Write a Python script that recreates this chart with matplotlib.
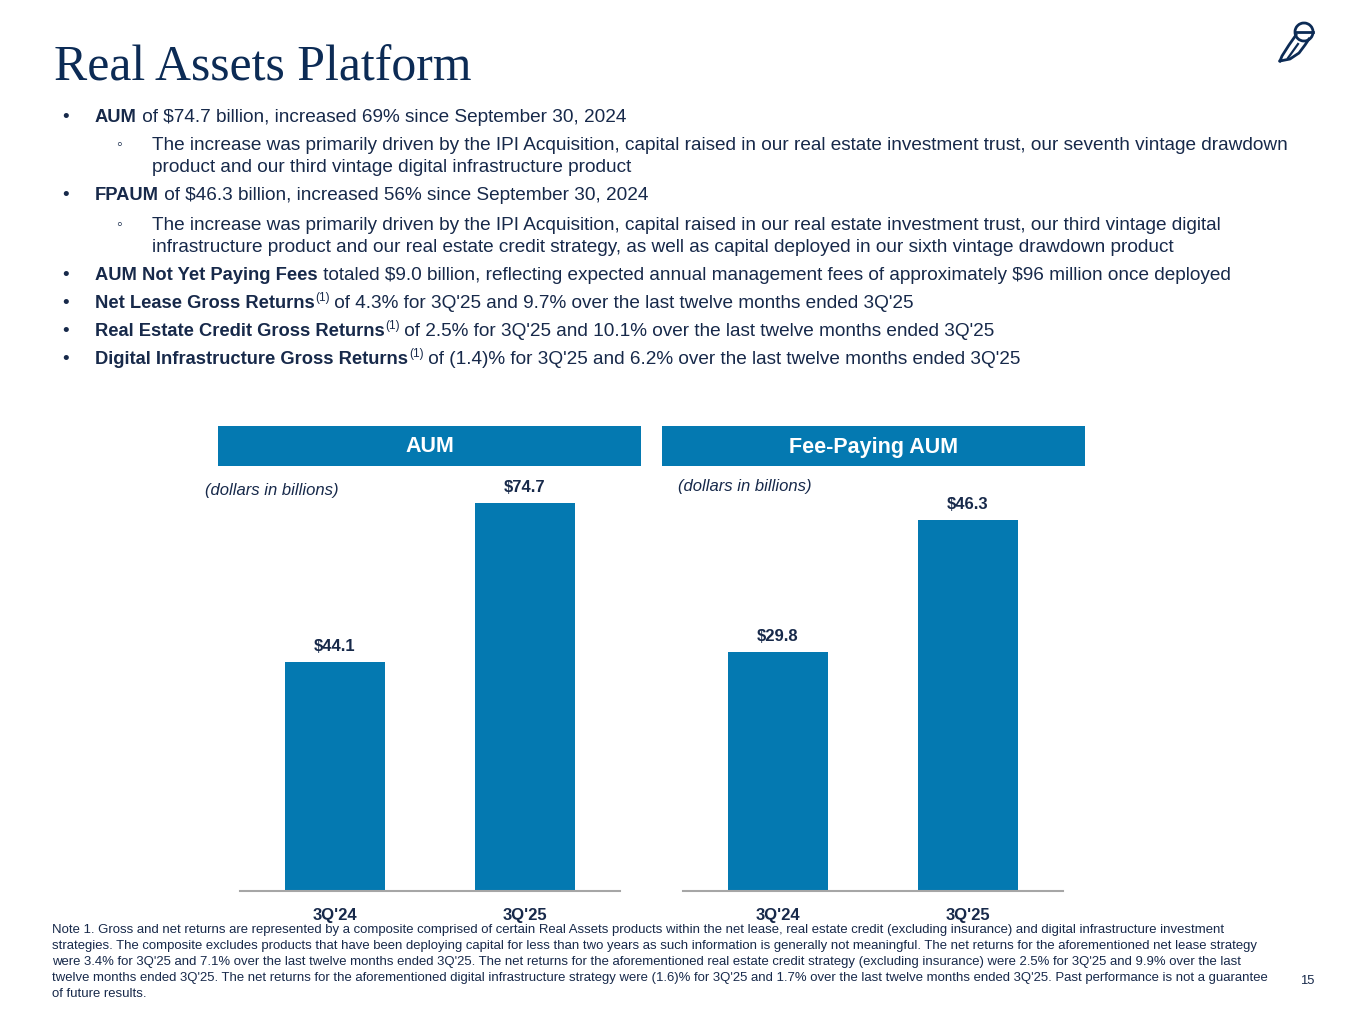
import matplotlib
matplotlib.use("Agg")
import matplotlib.pyplot as plt
from matplotlib.patches import Rectangle, Arc

W, H = 1365, 1024
NAVY = "#0c2b55"
TEXT = "#17294a"
BLUE = "#0479B1"

# data
periods = ["3Q'24", "3Q'25"]
aum = [44.1, 74.7]
fpaum = [29.8, 46.3]

bullets = [
    # (level, y, runs)
    (1, 117, [("AUM", "bold"), (" of $74.7 billion, increased 69% since September 30, 2024", "normal")]),
    (2, 145, [("The increase was primarily driven by the IPI Acquisition, capital raised in our real estate investment trust, our seventh vintage drawdown", "normal")]),
    (0, 168, [("product and our third vintage digital infrastructure product", "normal")]),
    (1, 196, [("FPAUM", "bold"), (" of $46.3 billion, increased 56% since September 30, 2024", "normal")]),
    (2, 225, [("The increase was primarily driven by the IPI Acquisition, capital raised in our real estate investment trust, our third vintage digital", "normal")]),
    (0, 247, [("infrastructure product and our real estate credit strategy, as well as capital deployed in our sixth vintage drawdown product", "normal")]),
    (1, 276, [("AUM Not Yet Paying Fees", "bold"), (" totaled $9.0 billion, reflecting expected annual management fees of approximately $96 million once deployed", "normal")]),
    (1, 304, [("Net Lease Gross Returns", "bold"), ("(1)", "sup"), (" of 4.3% for 3Q'25 and 9.7% over the last twelve months ended 3Q'25", "normal")]),
    (1, 332, [("Real Estate Credit Gross Returns", "bold"), ("(1)", "sup"), (" of 2.5% for 3Q'25 and 10.1% over the last twelve months ended 3Q'25", "normal")]),
    (1, 360, [("Digital Infrastructure Gross Returns", "bold"), ("(1)", "sup"), (" of (1.4)% for 3Q'25 and 6.2% over the last twelve months ended 3Q'25", "normal")]),
]

note_lines = [
    "Note 1. Gross and net returns are represented by a composite comprised of certain Real Assets products within the net lease, real estate credit (excluding insurance) and digital infrastructure investment",
    "strategies. The composite excludes products that have been deploying capital for less than two years as such information is generally not meaningful. The net returns for the aforementioned net lease strategy",
    "were 3.4% for 3Q'25 and 7.1% over the last twelve months ended 3Q'25. The net returns for the aforementioned real estate credit strategy (excluding insurance) were 2.5% for 3Q'25 and 9.9% over the last",
    "twelve months ended 3Q'25. The net returns for the aforementioned digital infrastructure strategy were (1.6)% for 3Q'25 and 1.7% over the last twelve months ended 3Q'25. Past performance is not a guarantee",
    "of future results.",
]

plt.rcParams["font.family"] = ["Liberation Sans", "DejaVu Sans"]
fig = plt.figure(figsize=(W / 100, H / 100), dpi=100)
fig.patch.set_facecolor("white")
renderer = fig.canvas.get_renderer()


def fx(x):
    return x / W


def fy(y):
    return 1 - y / H


# title
fig.text(fx(54), fy(68), "Real Assets Platform", family=["Liberation Serif"], fontsize=35.8,
         color=NAVY, va="center", ha="left")

# owl logo (rough sketch)
owl = fig.add_axes([fx(1276), fy(64), 44 / W, 44 / H])
owl.set_xlim(0, 44); owl.set_ylim(0, 44); owl.axis("off")
owl.set_aspect("equal")
owl.add_patch(Arc((28, 32), 18, 18, theta1=0, theta2=360, color=NAVY, lw=2))
owl.plot([19, 37], [32, 32], color=NAVY, lw=2)
owl.plot([20, 13, 6, 4], [29, 19, 8, 3], color=NAVY, lw=2)
owl.plot([4, 14, 23, 29, 33], [3, 5, 11, 19, 25], color=NAVY, lw=2)
owl.plot([12, 17, 22], [6, 13, 20], color=NAVY, lw=1.6)

# bullets
FS = 13.7
FSB = 13.2
for level, y, runs in bullets:
    if level == 1:
        fig.text(fx(62), fy(y), "\u2022", fontsize=FS, color=TEXT, va="center")
        x = 95
    elif level == 2:
        fig.text(fx(116), fy(y), "\u25e6", fontsize=FS - 2, color=TEXT, va="center")
        x = 152
    else:
        x = 152
    for s, kind in runs:
        if kind == "sup":
            t = fig.text(fx(x + 1), fy(y - 6), s, fontsize=FS * 0.62, color=TEXT, va="center",
                         parse_math=False)
        elif kind == "bold":
            t = fig.text(fx(x), fy(y), s, fontsize=FSB, color=TEXT, va="center", weight="bold",
                         parse_math=False)
        else:
            t = fig.text(fx(x), fy(y), s, fontsize=FS, color=TEXT, va="center",
                         parse_math=False)
        x += t.get_window_extent(renderer).width

# header boxes
for x0, label in [(218, "AUM"), (662, "Fee-Paying AUM")]:
    fig.patches.append(Rectangle((fx(x0), fy(466)), 423 / W, 40 / H, transform=fig.transFigure,
                                 facecolor=BLUE, edgecolor="none"))
    fig.text(fx(x0 + 211.5), fy(447), label, fontsize=15.5, weight="bold", color="white",
             ha="center", va="center")

fig.text(fx(205), fy(490), "(dollars in billions)", fontsize=12, style="italic", color=TEXT, va="center")
fig.text(fx(678), fy(487), "(dollars in billions)", fontsize=12, style="italic", color=TEXT, va="center")

# bar charts
for left, vals, top in [(240, aum, 79.2), (683, fpaum, 51.3)]:
    ax = fig.add_axes([fx(left), fy(891), 380 / W, 411 / H])
    xs = range(len(periods))
    ax.bar(xs, vals, width=0.53, color=BLUE, zorder=2)
    ax.set_xlim(-0.5, 1.5)
    ax.set_ylim(0, top)
    for s in ["top", "right", "left"]:
        ax.spines[s].set_visible(False)
    ax.spines["bottom"].set_color("#a6a6a6")
    ax.spines["bottom"].set_linewidth(1.5)
    ax.set_yticks([])
    ax.set_xticks(list(xs))
    ax.set_xticklabels(periods, fontsize=12, weight="bold", color=TEXT)
    ax.tick_params(axis="x", length=0, pad=12)
    for i, v in enumerate(vals):
        ax.annotate(f"${v:.1f}", (i, v), xytext=(0, 6), textcoords="offset points",
                    ha="center", va="bottom", fontsize=12, weight="bold", color=TEXT)

# note
for i, line in enumerate(note_lines):
    fig.text(fx(52), fy(930 + 16 * i), line, fontsize=9.45, color=TEXT, va="center")
fig.text(fx(1300), fy(981), "15", fontsize=9.4, color=TEXT, va="center")

fig.savefig("out.png", dpi=100, facecolor="white")
